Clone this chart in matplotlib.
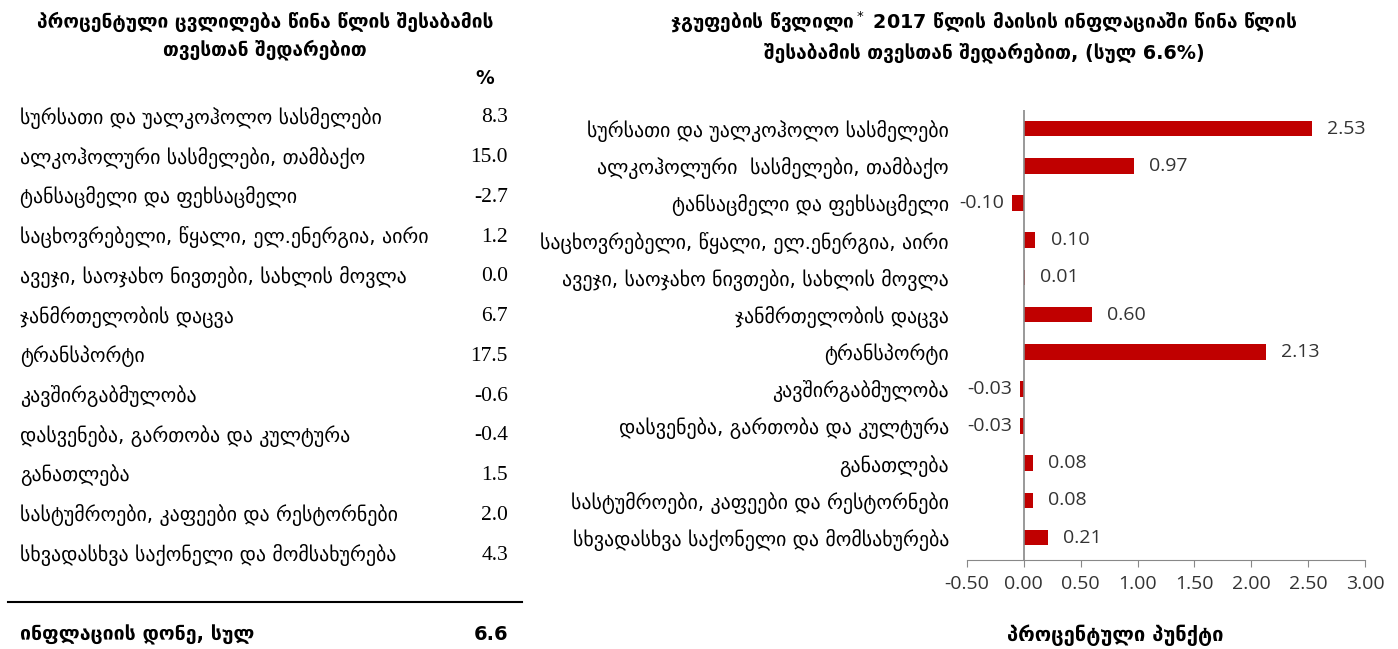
import matplotlib
matplotlib.use("Agg")
import matplotlib.pyplot as plt

# ---- data ----
categories = [
    "სურსათი და უალკოჰოლო სასმელები",
    "ალკოჰოლური სასმელები, თამბაქო",
    "ტანსაცმელი და ფეხსაცმელი",
    "საცხოვრებელი, წყალი, ელ.ენერგია, აირი",
    "ავეჯი, საოჯახო ნივთები, სახლის მოვლა",
    "ჯანმრთელობის დაცვა",
    "ტრანსპორტი",
    "კავშირგაბმულობა",
    "დასვენება, გართობა და კულტურა",
    "განათლება",
    "სასტუმროები, კაფეები და რესტორნები",
    "სხვადასხვა საქონელი და მომსახურება",
]
chart_labels = [
    "სურსათი და უალკოჰოლო სასმელები",
    "ალკოჰოლური  სასმელები, თამბაქო",
    "ტანსაცმელი და ფეხსაცმელი",
    "საცხოვრებელი, წყალი, ელ.ენერგია, აირი",
    "ავეჯი, საოჯახო ნივთები, სახლის მოვლა",
    "ჯანმრთელობის დაცვა",
    "ტრანსპორტი",
    "კავშირგაბმულობა",
    "დასვენება, გართობა და კულტურა",
    "განათლება",
    "სასტუმროები, კაფეები და რესტორნები",
    "სხვადასხვა საქონელი და მომსახურება",
]
pct_change = [8.3, 15.0, -2.7, 1.2, 0.0, 6.7, 17.5, -0.6, -0.4, 1.5, 2.0, 4.3]
contribution = [2.53, 0.97, -0.10, 0.10, 0.01, 0.60, 2.13, -0.03, -0.03, 0.08, 0.08, 0.21]
total_label = "ინფლაციის დონე, სულ"
total_value = 6.6
xticks = [-0.5, 0.0, 0.5, 1.0, 1.5, 2.0, 2.5, 3.0]

left_title = "პროცენტული ცვლილება წინა წლის შესაბამის\nთვესთან შედარებით"
right_title = "ჯგუფების წვლილი$^*$ 2017 წლის მაისის ინფლაციაში წინა წლის\nშესაბამის თვესთან შედარებით, (სულ 6.6%)"
xlabel = "პროცენტული პუნქტი"

W, H = 1398, 649
fig = plt.figure(figsize=(W / 100, H / 100), dpi=100)
geo = ["DejaVu Sans"]
num_font = ["Liberation Serif", "DejaVu Serif"]
cal = ["Open Sans", "DejaVu Sans"]

def fx(px):
    return px / W

def fy(py):
    return 1 - py / H

# ---- left table ----
fig.text(fx(265), fy(36), left_title, ha="center", va="center", fontsize=13.8,
         fontweight="bold", family=geo, linespacing=1.45)
fig.text(fx(485), fy(78), "%", ha="center", va="center", fontsize=13.5,
         fontweight="bold", family=geo)
y0, dy = 118, (555 - 118) / 11
for i, (c, v) in enumerate(zip(categories, pct_change)):
    y = y0 + i * dy
    fig.text(fx(20), fy(y), c, ha="left", va="center", fontsize=14.3, family=geo)
    fig.text(fx(508), fy(y), f"{v:.1f}", ha="right", va="center", fontsize=15.5,
             family=num_font)
fig.add_artist(plt.Line2D([fx(8), fx(522)], [fy(602), fy(602)],
                          color="black", lw=1.5, transform=fig.transFigure))
fig.text(fx(20), fy(635), total_label, ha="left", va="center", fontsize=14,
         fontweight="bold", family=geo)
fig.text(fx(508), fy(635), f"{total_value:.1f}", ha="right", va="center",
         fontsize=14, fontweight="bold", family=geo)

# ---- right chart ----
ax = fig.add_axes([fx(967), fy(560), fx(1365) - fx(967), fy(110) - fy(560)])
ypos = list(range(len(contribution)))
ax.barh(ypos, contribution, height=0.42, color="#C00000")
ax.set_xlim(-0.5, 3.0)
ax.set_ylim(11.6, -0.5)
ax.set_xticks(xticks)
ax.set_xticklabels([f"{t:.2f}" for t in xticks], family=cal, fontsize=14,
                   color="#333333")
ax.set_yticks(ypos)
ax.set_yticklabels(chart_labels, family=geo, fontsize=14.3)
ax.tick_params(axis="y", length=0, pad=13)
ax.tick_params(axis="x", length=5, color="#888888", direction="out", pad=6)
for s in ["top", "right", "left"]:
    ax.spines[s].set_visible(False)
ax.spines["bottom"].set_color("#888888")
ax.axvline(0, color="#888888", lw=1.2)
ax.patch.set_alpha(0)

for y, v in zip(ypos, contribution):
    if v >= 0:
        ax.annotate(f"{v:.2f}", (v, y), xytext=(11, 0), textcoords="offset points",
                    ha="left", va="center", fontsize=14, family=cal, color="#333333")
    else:
        ax.annotate(f"{v:.2f}", (v, y), xytext=(-6, 0), textcoords="offset points",
                    ha="right", va="center", fontsize=14, family=cal, color="#333333")

fig.text(fx(984), fy(36), right_title, ha="center", va="center", fontsize=13.8,
         fontweight="bold", family=geo, linespacing=1.45)
fig.text(fx(1115), fy(635), xlabel, ha="center", va="center", fontsize=14.5,
         fontweight="bold", family=geo)

fig.savefig("out.png", dpi=100)
